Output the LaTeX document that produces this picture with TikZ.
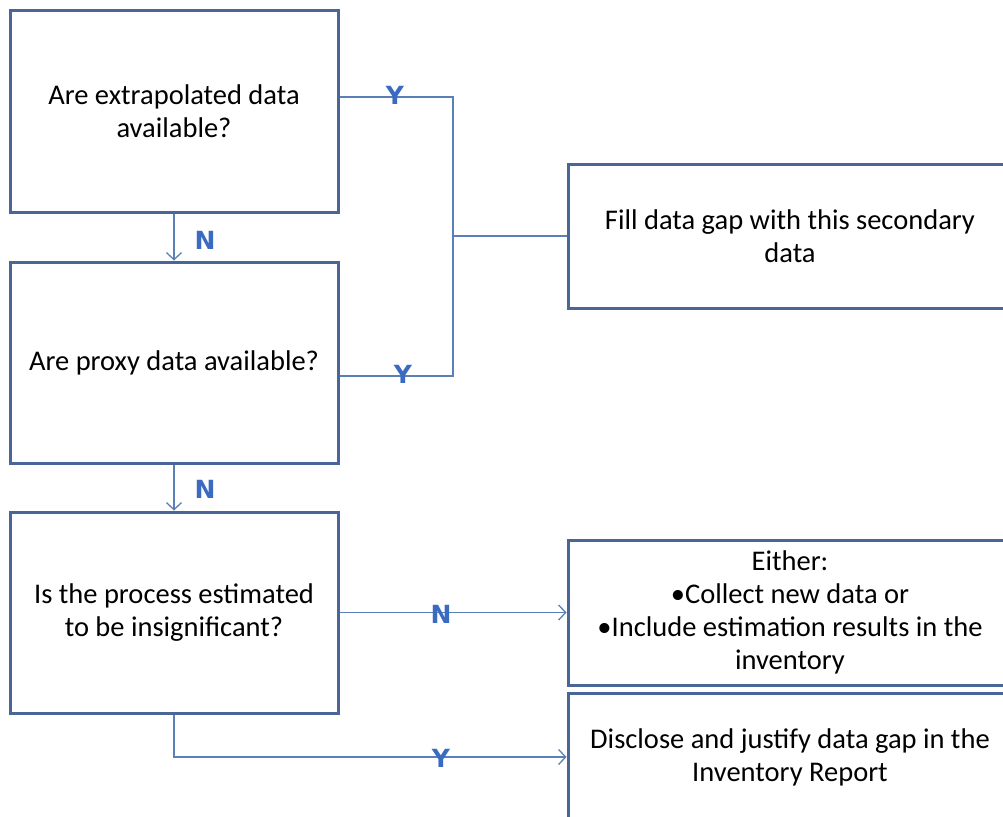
\documentclass[tikz,border=0pt]{standalone}
\usepackage{fontspec}
\setmainfont{Carlito}
\newfontfamily\labelfont{DejaVu Sans}
\usetikzlibrary{arrows.meta}
\definecolor{boxline}{HTML}{4A6698}
\definecolor{linkline}{HTML}{5B80B8}
\definecolor{ynblue}{HTML}{3A6BC0}
\tikzset{
  qbox/.style={draw=boxline, line width=3pt, fill=white, anchor=north west,
    minimum width=328pt, minimum height=201pt, align=center, inner sep=0pt,
    font=\fontsize{28.5}{33}\selectfont},
  abox/.style={qbox, minimum width=444pt},
  link/.style={draw=linkline, line width=1.3pt},
  arr/.style={link, -{Straight Barb[length=7pt,width=15pt,line width=1.3pt]}},
  yn/.style={font=\labelfont\bfseries\fontsize{25}{25}\selectfont, text=ynblue, inner sep=0pt}
}
\begin{document}
\begin{tikzpicture}[x=1pt,y=-1pt]
\useasboundingbox (0,0) rectangle (1003,816);
\clip (0,0) rectangle (1003,816);
\fill[white] (0,0) rectangle (1003,816);

% decision boxes
\node[qbox] (b1) at (8.5,9.5) {Are extrapolated data\\available?};
\node[qbox] (b2) at (8.5,260.5) {Are proxy data available?};
\node[qbox] (b3) at (8.5,510.5) {Is the process estimated\\to be insignificant?};

% outcome boxes
\node[abox, minimum height=144pt] (b4) at (566.5,162.5) {Fill data gap with this secondary\\data};
\node[abox, minimum height=145pt] (b5) at (566.5,538.5) {Either:\\\textbullet Collect new data or\\\textbullet Include estimation results in the\\inventory};
\node[abox, minimum height=128pt] (b6) at (566.5,691.5) {Disclose and justify data gap in the\\Inventory Report};

% "yes" branches joining into the secondary-data box
\coordinate (j1) at (453,97);
\coordinate (j2) at (453,376);
\draw[link] (b1.east |- j1) -- (j1) -- (j2) -- (b2.east |- j2);
\draw[link] (j1 |- b4.west) -- (b4.west);

% "no" branches down the left column
\draw[arr] (b1.south) -- (b2.north);
\draw[arr] (b2.south) -- (b3.north);

% significance decision
\draw[arr] (b3.east) -- (b3.east -| b5.west);
\draw[arr] (b3.south) |- (b6.west);

% branch labels
\node[yn] (y1) at (395,95) {Y};
\node[yn] (y2) at (403,374) {Y};
\node[yn] (n1) at (205,240) {N};
\node[yn] (n2) at (205,489) {N};
\node[yn] (n3) at (441,614) {N};
\node[yn] (y3) at (441,758) {Y};
\end{tikzpicture}
\end{document}
